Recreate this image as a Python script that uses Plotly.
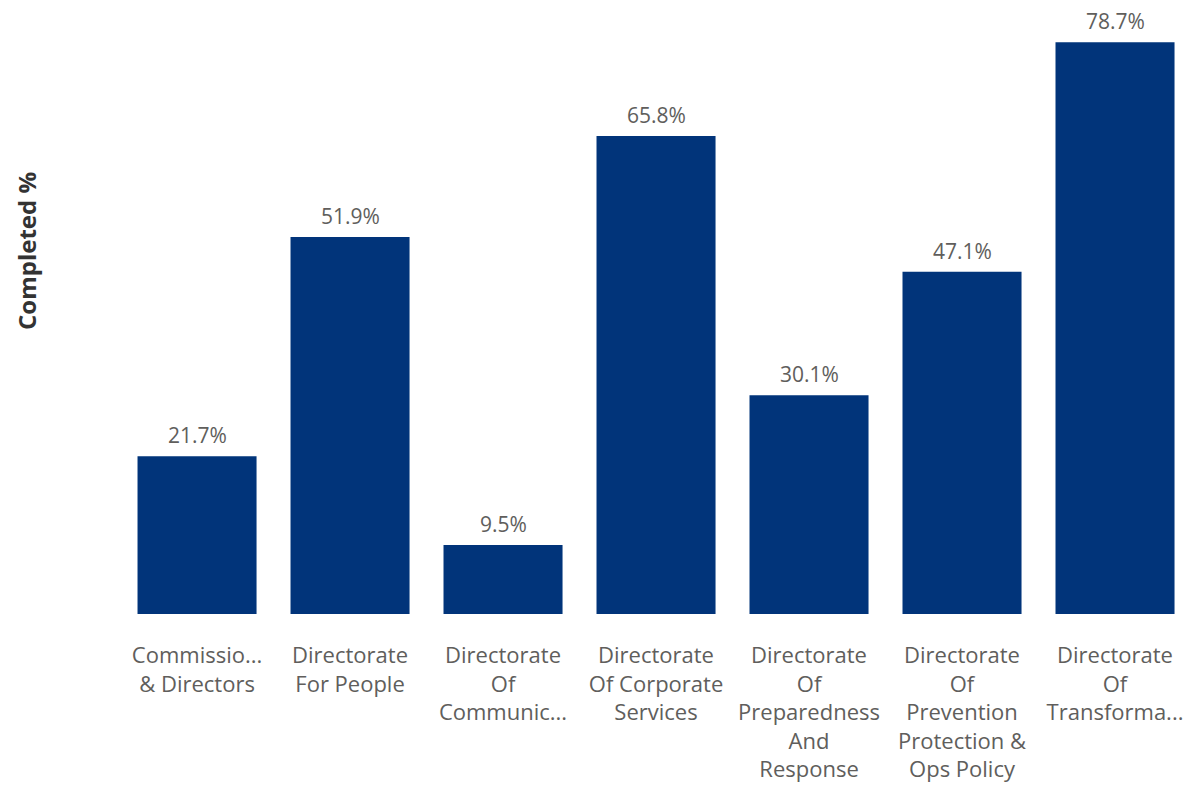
import plotly.graph_objects as go

categories = [
    "Commissio...<br>& Directors",
    "Directorate<br>For People",
    "Directorate<br>Of<br>Communic...",
    "Directorate<br>Of Corporate<br>Services",
    "Directorate<br>Of<br>Preparedness<br>And<br>Response",
    "Directorate<br>Of<br>Prevention<br>Protection &<br>Ops Policy",
    "Directorate<br>Of<br>Transforma...",
]
completed = [21.7, 51.9, 9.5, 65.8, 30.1, 47.1, 78.7]
labels = [f"{v:.1f}%" for v in completed]

W, H = 1186, 795
L, T, B = 121, 0, 181
FONT = "Open Sans, Noto Sans, sans-serif"
GRAY = "#605E5C"

fig = go.Figure(go.Bar(
    x=list(range(len(categories))),
    y=completed,
    marker=dict(color="#01347A", line=dict(width=0)),
    cliponaxis=False,
))

annotations = [
    dict(x=i, y=v, xref="x", yref="y", text=t, showarrow=False,
         xanchor="center", yanchor="bottom", yshift=5,
         font=dict(family=FONT, size=21, color=GRAY))
    for i, (v, t) in enumerate(zip(completed, labels))
]
annotations.append(dict(
    text="<b>Completed %</b>",
    xref="paper", yref="paper",
    x=(27 - L) / (W - L), y=1 - 251 / (H - T - B),
    xanchor="center", yanchor="middle",
    textangle=-90, showarrow=False,
    font=dict(family=FONT, size=24, color="#333333"),
))

fig.update_layout(
    width=W, height=H,
    margin=dict(l=L, r=0, t=T, b=B, pad=0),
    paper_bgcolor="white", plot_bgcolor="white",
    bargap=0.222,
    showlegend=False,
    xaxis=dict(
        tickmode="array",
        tickvals=list(range(len(categories))),
        ticktext=categories,
        range=[-0.497, 6.464],
        showgrid=False, zeroline=False, showline=False,
        ticks="", ticklen=0,
        ticklabelstandoff=26,
        tickfont=dict(family=FONT, size=22, color=GRAY),
        tickangle=0,
    ),
    yaxis=dict(
        range=[0, 84.5],
        visible=False,
    ),
    annotations=annotations,
)

fig.write_html("out.html")
